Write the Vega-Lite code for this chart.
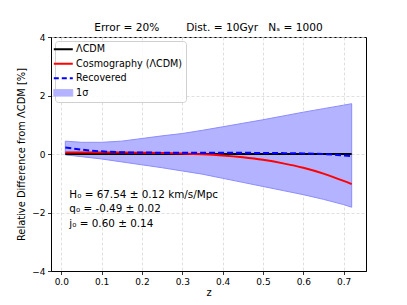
{
  "$schema": "https://vega.github.io/schema/vega-lite/v6.json",
  "width": 315,
  "height": 234,
  "autosize": {"type": "none"},
  "padding": {"left": 51, "top": 37, "right": 41, "bottom": 34},
  "title": {"text": "Error = 20%\u00a0\u00a0\u00a0\u00a0\u00a0\u00a0\u00a0\u00a0Dist. = 10Gyr\u00a0\u00a0\u00a0Nₛ = 1000", "fontSize": 10.6, "fontWeight": "normal", "font": "DejaVu Sans", "offset": 1.5, "dy": 10.5, "baseline": "alphabetic", "color": "black"},
  "config": {
    "view": {"stroke": "black", "strokeWidth": 1},
    "axis": {"labelFont": "DejaVu Sans", "titleFont": "DejaVu Sans", "labelFontSize": 9, "titleFontSize": 9.9, "titleFontWeight": "normal", "labelColor": "black", "titleColor": "black", "domainColor": "black", "tickColor": "black", "tickSize": 3.5, "tickWidth": 0.8, "gridColor": "#d8d8d8", "gridDash": [3, 2], "gridWidth": 0.8, "zindex": 1, "labelOverlap": false},
    "axisY": {"tickCount": 8, "labelOverlap": false},
    "legend": {"labelFont": "DejaVu Sans"}
  },
  "datasets": {
    "curves": [
      {"z": 0.01, "series": "ΛCDM", "value": 0}, {"z": 0.72, "series": "ΛCDM", "value": 0},
      {"z": 0.01, "series": "Cosmography (ΛCDM)", "value": 0.05},
      {"z": 0.05, "series": "Cosmography (ΛCDM)", "value": 0.05},
      {"z": 0.1, "series": "Cosmography (ΛCDM)", "value": 0.05},
      {"z": 0.15, "series": "Cosmography (ΛCDM)", "value": 0.048},
      {"z": 0.2, "series": "Cosmography (ΛCDM)", "value": 0.044},
      {"z": 0.25, "series": "Cosmography (ΛCDM)", "value": 0.034},
      {"z": 0.3, "series": "Cosmography (ΛCDM)", "value": 0.018},
      {"z": 0.35, "series": "Cosmography (ΛCDM)", "value": -0.01},
      {"z": 0.4, "series": "Cosmography (ΛCDM)", "value": -0.053},
      {"z": 0.45, "series": "Cosmography (ΛCDM)", "value": -0.115},
      {"z": 0.5, "series": "Cosmography (ΛCDM)", "value": -0.2},
      {"z": 0.55, "series": "Cosmography (ΛCDM)", "value": -0.32},
      {"z": 0.6, "series": "Cosmography (ΛCDM)", "value": -0.47},
      {"z": 0.65, "series": "Cosmography (ΛCDM)", "value": -0.67},
      {"z": 0.7, "series": "Cosmography (ΛCDM)", "value": -0.92},
      {"z": 0.72, "series": "Cosmography (ΛCDM)", "value": -1.03}
    ],
    "recovered": [
      {"z": 0.01, "series": "Recovered", "value": 0.22},
      {"z": 0.05, "series": "Recovered", "value": 0.15},
      {"z": 0.1, "series": "Recovered", "value": 0.09},
      {"z": 0.15, "series": "Recovered", "value": 0.06},
      {"z": 0.2, "series": "Recovered", "value": 0.05},
      {"z": 0.25, "series": "Recovered", "value": 0.045},
      {"z": 0.3, "series": "Recovered", "value": 0.04},
      {"z": 0.35, "series": "Recovered", "value": 0.04},
      {"z": 0.4, "series": "Recovered", "value": 0.04},
      {"z": 0.45, "series": "Recovered", "value": 0.04},
      {"z": 0.5, "series": "Recovered", "value": 0.035},
      {"z": 0.55, "series": "Recovered", "value": 0.03},
      {"z": 0.6, "series": "Recovered", "value": 0.02},
      {"z": 0.65, "series": "Recovered", "value": 0.0},
      {"z": 0.7, "series": "Recovered", "value": -0.05},
      {"z": 0.72, "series": "Recovered", "value": -0.07}
    ],
    "band": [
      {"z": 0.01, "lo": -0.03, "hi": 0.44},
      {"z": 0.05, "lo": -0.09, "hi": 0.40},
      {"z": 0.1, "lo": -0.17, "hi": 0.40},
      {"z": 0.15, "lo": -0.27, "hi": 0.44},
      {"z": 0.2, "lo": -0.37, "hi": 0.53},
      {"z": 0.25, "lo": -0.47, "hi": 0.62},
      {"z": 0.3, "lo": -0.58, "hi": 0.70},
      {"z": 0.35, "lo": -0.69, "hi": 0.81},
      {"z": 0.4, "lo": -0.83, "hi": 0.93},
      {"z": 0.45, "lo": -0.97, "hi": 1.05},
      {"z": 0.5, "lo": -1.11, "hi": 1.17},
      {"z": 0.55, "lo": -1.25, "hi": 1.30},
      {"z": 0.6, "lo": -1.39, "hi": 1.43},
      {"z": 0.65, "lo": -1.55, "hi": 1.55},
      {"z": 0.7, "lo": -1.73, "hi": 1.67},
      {"z": 0.72, "lo": -1.82, "hi": 1.72}
    ]
  },
  "layer": [
    {
      "data": {"name": "band"},
      "mark": {"type": "area", "stroke": "#8c8cff", "strokeWidth": 1, "opacity": 1},
      "encoding": {
        "x": {"field": "z", "type": "quantitative", "scale": {"domain": [-0.0255, 0.7555], "nice": false, "zero": false},
          "axis": {"title": "z", "values": [0, 0.1, 0.2, 0.3, 0.4, 0.5, 0.6, 0.7], "format": ".1f", "titlePadding": 1.5, "labelPadding": 2.5}},
        "y": {"field": "lo", "type": "quantitative", "scale": {"domain": [-4, 4], "nice": false},
          "axis": {"title": "Relative Difference from ΛCDM [%]", "values": [-4, -3, -2, -1, 0, 1, 2, 3, 4], "tickCount": 8, "labelOverlap": false, "titlePadding": 5, "labelPadding": 2.5}},
        "y2": {"field": "hi"},
        "color": {"datum": "1σ", "type": "nominal"}
      }
    },
    {
      "data": {"name": "curves"},
      "mark": {"type": "line", "interpolate": "monotone", "strokeWidth": 2},
      "encoding": {
        "x": {"field": "z", "type": "quantitative"},
        "y": {"field": "value", "type": "quantitative",
          "axis": {"title": "Relative Difference from ΛCDM [%]", "values": [-4, -3, -2, -1, 0, 1, 2, 3, 4], "tickCount": 8, "labelOverlap": false, "titlePadding": 5, "labelPadding": 2.5}},
        "color": {"field": "series", "type": "nominal",
          "scale": {"domain": ["ΛCDM", "Cosmography (ΛCDM)", "Recovered", "1σ"], "range": ["black", "red", "blue", "#b3b3ff"]},
          "legend": {
            "title": null, "orient": "top-left", "offset": 4, "strokeColor": "#d0d0d0", "fillColor": "rgba(255,255,255,0.85)", "cornerRadius": 3, "padding": 3.5,
            "labelFont": "DejaVu Sans", "labelFontSize": 9.6, "labelColor": "black", "labelOffset": 8, "rowPadding": 3.5, "symbolSize": 361, "symbolStrokeWidth": 2,
            "encode": {"symbols": {"update": {
              "shape": {"signal": "datum.value === '1σ' ? 'M-1,-0.35H1V0.35H-1Z' : 'stroke'"},
              "fill": {"signal": "datum.value === '1σ' ? '#b3b3ff' : 'transparent'"},
              "stroke": {"signal": "datum.value === '1σ' ? '#8c8cff' : (datum.value === 'Recovered' ? 'blue' : (datum.value === 'ΛCDM' ? 'black' : 'red'))"},
              "strokeWidth": {"signal": "datum.value === '1σ' ? 1 : 2"},
              "strokeDash": {"signal": "datum.value === 'Recovered' ? [5, 3] : [1, 0]"},
              "opacity": {"value": 1}
            }}}
          }}
      }
    },
    {
      "data": {"name": "recovered"},
      "mark": {"type": "line", "interpolate": "monotone", "strokeWidth": 2, "strokeDash": [6, 3]},
      "encoding": {
        "x": {"field": "z", "type": "quantitative"},
        "y": {"field": "value", "type": "quantitative",
          "axis": {"title": "Relative Difference from ΛCDM [%]", "values": [-4, -3, -2, -1, 0, 1, 2, 3, 4], "tickCount": 8, "labelOverlap": false, "titlePadding": 5, "labelPadding": 2.5}},
        "color": {"field": "series", "type": "nominal"}
      }
    },
    {
      "data": {"values": [{"label": "H₀ = 67.54 ± 0.12 km/s/Mpc"}]},
      "mark": {"type": "text", "align": "left", "baseline": "middle", "fontSize": 10.4, "font": "DejaVu Sans", "fill": "black"},
      "encoding": {"x": {"datum": 0.02}, "y": {"datum": -1.4, "axis": {"title": "Relative Difference from ΛCDM [%]", "values": [-4, -3, -2, -1, 0, 1, 2, 3, 4], "tickCount": 8, "labelOverlap": false, "titlePadding": 5, "labelPadding": 2.5}}, "text": {"field": "label", "type": "nominal"}}
    },
    {
      "data": {"values": [{"label": "q₀ = -0.49 ± 0.02"}]},
      "mark": {"type": "text", "align": "left", "baseline": "middle", "fontSize": 10.4, "font": "DejaVu Sans", "fill": "black"},
      "encoding": {"x": {"datum": 0.02}, "y": {"datum": -1.88, "axis": {"title": "Relative Difference from ΛCDM [%]", "values": [-4, -3, -2, -1, 0, 1, 2, 3, 4], "tickCount": 8, "labelOverlap": false, "titlePadding": 5, "labelPadding": 2.5}}, "text": {"field": "label", "type": "nominal"}}
    },
    {
      "data": {"values": [{"label": "j₀ = 0.60 ± 0.14"}]},
      "mark": {"type": "text", "align": "left", "baseline": "middle", "fontSize": 10.4, "font": "DejaVu Sans", "fill": "black"},
      "encoding": {"x": {"datum": 0.02}, "y": {"datum": -2.39, "axis": {"title": "Relative Difference from ΛCDM [%]", "values": [-4, -3, -2, -1, 0, 1, 2, 3, 4], "tickCount": 8, "labelOverlap": false, "titlePadding": 5, "labelPadding": 2.5}}, "text": {"field": "label", "type": "nominal"}}
    }
  ]
}
